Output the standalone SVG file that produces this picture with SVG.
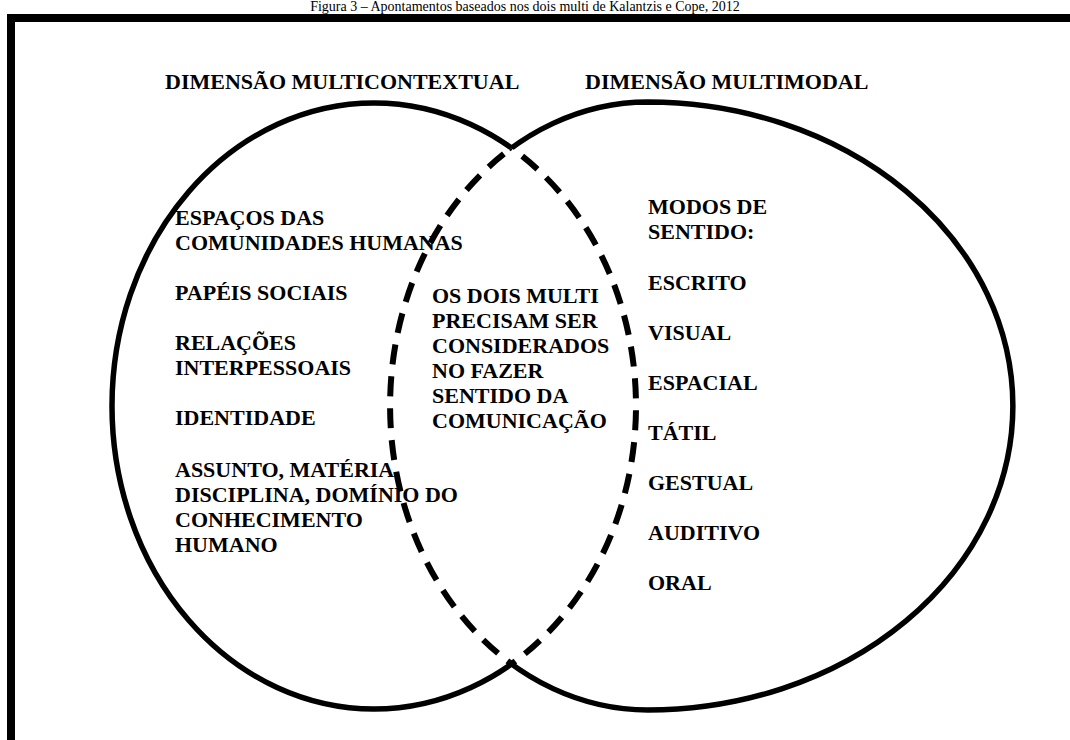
<svg xmlns="http://www.w3.org/2000/svg" width="1070" height="740" viewBox="0 0 1070 740">
  <style>
    .t { font-family: "Liberation Serif", "Times New Roman", serif; font-weight: bold; font-size: 22px; fill: #000; }
    .cap { font-family: "Liberation Serif", "Times New Roman", serif; font-size: 14px; fill: #000; }
    .solid { fill: none; stroke: #000; stroke-width: 5.5; }
    .dash { fill: none; stroke: #000; stroke-width: 6; stroke-dasharray: 20 12; }
  </style>
  <defs>
    <path id="shapeL" d="M112,406 A262,303 0 1 0 636,406 A262,303 0 1 0 112,406 Z"/>
    <path id="shapeR" d="M648,102 A365,304 0 0 1 648,710 A258,304 0 0 1 648,102 Z"/>
    <clipPath id="inR"><path d="M648,102 A365,304 0 0 1 648,710 A258,304 0 0 1 648,102 Z"/></clipPath>
    <clipPath id="outR"><path clip-rule="evenodd" d="M-20,-20 H1100 V800 H-20 Z M648,102 A365,304 0 0 1 648,710 A258,304 0 0 1 648,102 Z"/></clipPath>
    <clipPath id="inL"><path d="M112,406 A262,303 0 1 0 636,406 A262,303 0 1 0 112,406 Z"/></clipPath>
    <clipPath id="outL"><path clip-rule="evenodd" d="M-20,-20 H1100 V800 H-20 Z M112,406 A262,303 0 1 0 636,406 A262,303 0 1 0 112,406 Z"/></clipPath>
  </defs>
  <rect width="1070" height="740" fill="#fff"/>
  <text class="cap" x="525" y="11" text-anchor="middle">Figura 3 – Apontamentos baseados nos dois multi de Kalantzis e Cope, 2012</text>
  <rect x="11" y="18" width="1100" height="800" fill="none" stroke="#000" stroke-width="8"/>

  <g id="multicontextual">
    <use href="#shapeL" class="solid" clip-path="url(#outR)"/>
    <text class="t" x="165" y="89">DIMENSÃO MULTICONTEXTUAL</text>
    <text class="t" x="175" y="225">ESPAÇOS DAS</text>
    <text class="t" x="175" y="250">COMUNIDADES HUMANAS</text>
    <text class="t" x="175" y="300">PAPÉIS SOCIAIS</text>
    <text class="t" x="175" y="350">RELAÇÕES</text>
    <text class="t" x="175" y="375">INTERPESSOAIS</text>
    <text class="t" x="175" y="425">IDENTIDADE</text>
    <text class="t" x="175" y="477">ASSUNTO, MATÉRIA</text>
    <text class="t" x="175" y="502">DISCIPLINA, DOMÍNIO DO</text>
    <text class="t" x="175" y="527">CONHECIMENTO</text>
    <text class="t" x="175" y="552">HUMANO</text>
  </g>

  <g id="multimodal">
    <use href="#shapeR" class="solid" clip-path="url(#outL)"/>
    <text class="t" x="585" y="89">DIMENSÃO MULTIMODAL</text>
    <text class="t" x="648" y="214">MODOS DE</text>
    <text class="t" x="648" y="239">SENTIDO:</text>
    <text class="t" x="648" y="290">ESCRITO</text>
    <text class="t" x="648" y="340">VISUAL</text>
    <text class="t" x="648" y="390">ESPACIAL</text>
    <text class="t" x="648" y="440">TÁTIL</text>
    <text class="t" x="648" y="490">GESTUAL</text>
    <text class="t" x="648" y="540">AUDITIVO</text>
    <text class="t" x="648" y="590">ORAL</text>
  </g>

  <g id="intersecao">
    <use href="#shapeL" class="dash" clip-path="url(#inR)"/>
    <use href="#shapeR" class="dash" clip-path="url(#inL)"/>
    <text class="t" x="432" y="303">OS DOIS MULTI</text>
    <text class="t" x="432" y="328">PRECISAM SER</text>
    <text class="t" x="432" y="353">CONSIDERADOS</text>
    <text class="t" x="432" y="378">NO FAZER</text>
    <text class="t" x="432" y="403">SENTIDO DA</text>
    <text class="t" x="432" y="428">COMUNICAÇÃO</text>
  </g>
</svg>
